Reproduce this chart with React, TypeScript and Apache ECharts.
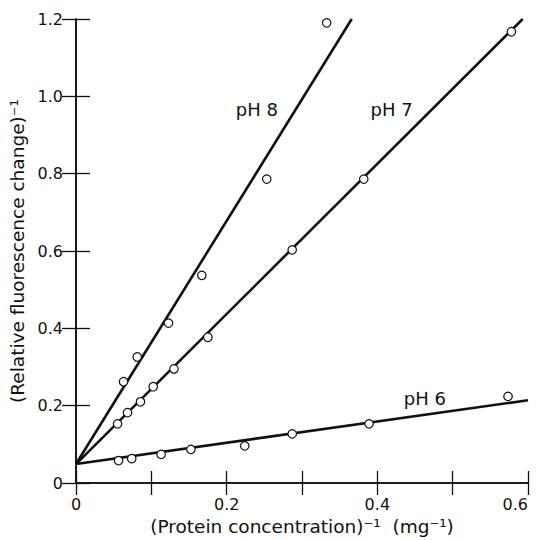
import React, { useEffect, useRef } from "react";
import * as echarts from "echarts";

const pH6Points: [number, number][] = [
  [0.0565, 0.058], [0.074, 0.063], [0.113, 0.074], [0.1525, 0.087],
  [0.224, 0.096], [0.287, 0.127], [0.389, 0.153], [0.5735, 0.224],
];
const pH7Points: [number, number][] = [
  [0.0552, 0.153], [0.0684, 0.182], [0.0856, 0.21], [0.1025, 0.249],
  [0.13, 0.295], [0.175, 0.377], [0.287, 0.603], [0.382, 0.786], [0.578, 1.167],
];
const pH8Points: [number, number][] = [
  [0.0631, 0.262], [0.0813, 0.326], [0.1228, 0.4135], [0.167, 0.537],
  [0.2532, 0.786], [0.3328, 1.19],
];
const pH6Line: [number, number][] = [[0, 0.049], [0.6, 0.214]];
const pH7Line: [number, number][] = [[0, 0.049], [0.593, 1.2]];
const pH8Line: [number, number][] = [[0, 0.049], [0.366, 1.2]];

const lineLabels = ["pH 8", "pH 7", "pH 6"];
const labelPositions: [number, number][] = [[0.24, 0.965], [0.419, 0.965], [0.463, 0.218]];

const xLabeled = [0, 0.2, 0.4, 0.6];
const xTitle = "(Protein concentration)⁻¹  (mg⁻¹)";
const yTitle = "(Relative fluorescence change)⁻¹";

const FONT = "DejaVu Sans";
const INK = "#111";

export default function App() {
  const ref = useRef<HTMLDivElement>(null);
  useEffect(() => {
    if (!ref.current) return;
    const chart = echarts.init(ref.current, null, { renderer: "svg" });
    const fmt = (v: number) => (v === 0 ? "0" : v.toFixed(1));
    const tick = { show: true, inside: true, length: 12, lineStyle: { color: INK, width: 1.3 } };
    const axLine = { show: true, lineStyle: { color: INK, width: 1.6 } };
    const lineSeries = (data: [number, number][]) => ({
      type: "line",
      data,
      symbol: "none",
      lineStyle: { color: INK, width: 2.6 },
      z: 2,
      silent: true,
    });
    const pointSeries = (data: [number, number][]) => ({
      type: "scatter",
      data,
      symbol: "circle",
      symbolSize: 8.5,
      itemStyle: { color: "#fff", borderColor: INK, borderWidth: 1.2, opacity: 1 },
      z: 3,
    });
    chart.setOption({
      animation: false,
      backgroundColor: "#fff",
      textStyle: { fontFamily: FONT },
      grid: { left: 76, right: 10, top: 19, bottom: 57, containLabel: false, outerBoundsMode: "none" },
      xAxis: [
        {
          type: "value", min: 0, max: 0.6, interval: 0.1, position: "bottom",
          axisLine: axLine, axisTick: tick, splitLine: { show: false },
          axisLabel: {
            color: INK, fontSize: 16, fontFamily: FONT, margin: 13, alignMaxLabel: "right",
            formatter: (v: number) => (xLabeled.some((t) => Math.abs(t - v) < 1e-6) ? fmt(v) : ""),
          },
          name: xTitle, nameLocation: "middle", nameGap: 34,
          nameTextStyle: { color: INK, fontSize: 18.5, fontFamily: FONT },
        },
        {
          type: "value", min: 0, max: 0.6, interval: 0.1, position: "top",
          axisLine: axLine, axisTick: tick, splitLine: { show: false },
          axisLabel: { show: false },
        },
      ],
      yAxis: [
        {
          type: "value", min: 0, max: 1.2, interval: 0.2, position: "left",
          axisLine: axLine, axisTick: { ...tick, length: 14 }, splitLine: { show: false },
          axisLabel: { color: INK, fontSize: 16, fontFamily: FONT, margin: 13, formatter: fmt },
          name: yTitle, nameLocation: "middle", nameGap: 48,
          nameTextStyle: { color: INK, fontSize: 18.5, fontFamily: FONT },
        },
        {
          type: "value", min: 0, max: 1.2, interval: 0.2, position: "right",
          axisLine: axLine, axisTick: { ...tick, length: 14 }, splitLine: { show: false },
          axisLabel: { show: false },
        },
      ],
      series: [
        lineSeries(pH8Line),
        lineSeries(pH7Line),
        lineSeries(pH6Line),
        pointSeries(pH8Points),
        pointSeries(pH7Points),
        pointSeries(pH6Points),
        {
          type: "scatter",
          data: labelPositions.map((p, i) => ({ value: p, name: lineLabels[i] })),
          symbolSize: 0,
          silent: true,
          itemStyle: { opacity: 1 },
          label: {
            show: true, position: "inside", formatter: (p: any) => p.name,
            color: INK, fontSize: 18, fontFamily: FONT,
          },
          z: 4,
        },
      ],
    });
    return () => chart.dispose();
  }, []);
  return (
    <div
      ref={ref}
      style={{ position: "absolute", left: 0, top: 0, width: 538, height: 540, background: "#fff" }}
    />
  );
}
